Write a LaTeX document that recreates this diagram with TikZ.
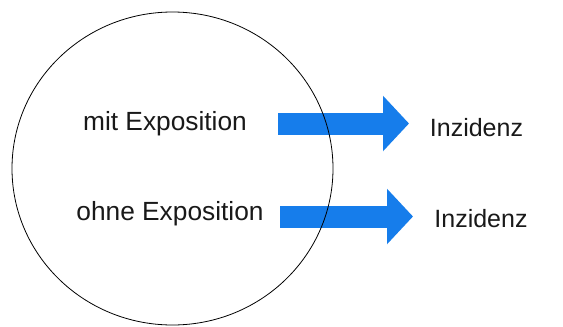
\documentclass[tikz,border=0pt]{standalone}
\usepackage{fontspec}
\setmainfont{Liberation Sans}
\usetikzlibrary{arrows.meta}
\definecolor{arrowblue}{RGB}{22,125,235}
\tikzset{
  lbl/.style={inner sep=0pt, font=\fontsize{26.3}{30}\selectfont, text=black!90},
  reslbl/.style={lbl, font=\fontsize{25}{30}\selectfont},
  bigarrow/.style={draw=arrowblue, line width=22pt,
    -{Triangle[length=26pt,width=54pt,fill=arrowblue]}}
}
\begin{document}
\begin{tikzpicture}[x=1pt,y=-1pt]
\useasboundingbox (0,0) rectangle (563,327);
\node[lbl] (mit) at (165,124) {mit Exposition};
\node[lbl] (ohne) at (170,214) {ohne Exposition};
\node[reslbl] (inz1) at (476.5,128) {Inzidenz};
\node[reslbl] (inz2) at (481,219) {Inzidenz};
\coordinate (s1) at (278,123.5);
\coordinate (t1) at (409,123.5);
\coordinate (s2) at (280,216.5);
\coordinate (t2) at (413,216.5);
\draw[bigarrow] (s1) -- (t1);
\draw[bigarrow] (s2) -- (t2);
\draw[line width=0.8pt] (172.5,168.5) ellipse [x radius=160.5, y radius=156.5];
\end{tikzpicture}
\end{document}
